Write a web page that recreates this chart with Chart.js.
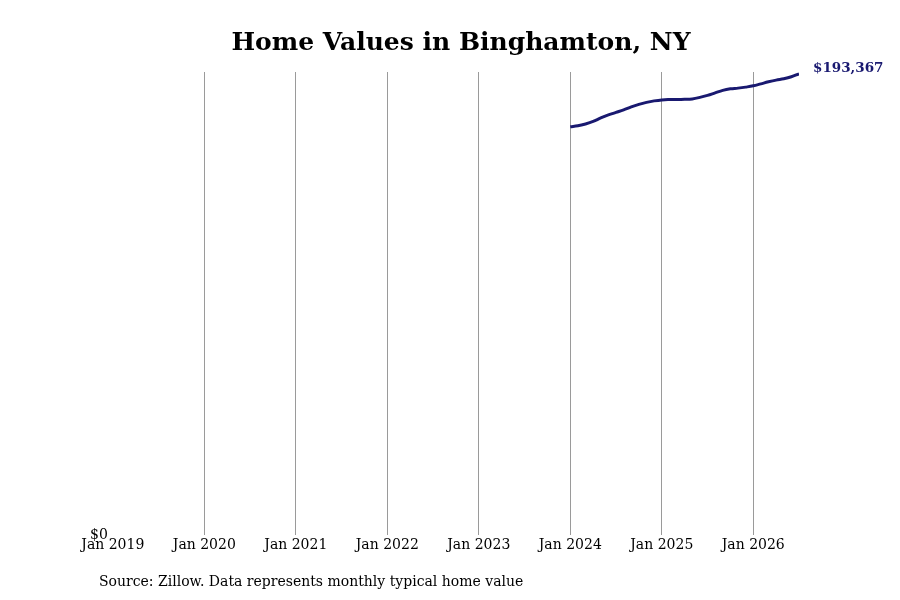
<!DOCTYPE html>
<html>
<head>
<meta charset="utf-8">
<title>Home Values in Binghamton, NY</title>
<script src="https://cdn.jsdelivr.net/npm/chart.js@4.4.1/dist/chart.umd.min.js"></script>
<style>
  html, body { margin: 0; padding: 0; background: #fff; }
  #wrap { width: 900px; height: 600px; position: relative; }
</style>
</head>
<body>
<div id="wrap"><canvas id="homeChart"></canvas></div>
<script>
// Data for the chart (monthly typical home value)
const months = [
    '2024-01', '2024-02', '2024-03', '2024-04', '2024-05', '2024-06',
    '2024-07', '2024-08', '2024-09', '2024-10', '2024-11', '2024-12',
    '2025-01', '2025-02', '2025-03', '2025-04', '2025-05', '2025-06',
    '2025-07', '2025-08', '2025-09', '2025-10', '2025-11', '2025-12',
    '2026-01', '2026-02', '2026-03', '2026-04', '2026-05', '2026-06',
    '2026-07'
];
const homeValues = [
    171230, 171600, 172360, 173410, 174890, 176150,
    177200, 178250, 179510, 180560, 181400, 182030,
    182450, 182580, 182580, 182670, 182870, 183500,
    184350, 185400, 186450, 187080, 187380, 187800,
    188340, 189180, 190020, 190740, 191290, 192130,
    193367
];
const tickYears = [2019, 2020, 2021, 2022, 2023, 2024, 2025, 2026];
const firstYear = 2019;

const titleText = 'Home Values in Binghamton, NY';
const sourceText = 'Source: Zillow. Data represents monthly typical home value';
const lineColor = '#191970';

// months since Jan 2019
function monthOffset(str) {
    const [y, m] = str.split('-').map(Number);
    return (y - firstYear) * 12 + (m - 1);
}

const points = months.map((m, i) => ({ x: monthOffset(m), y: homeValues[i] }));
const lastX = points[points.length - 1].x;
const maxVal = Math.max(...homeValues);

const fmt = v => '$' + Math.round(v).toLocaleString('en-US');

// title, end label and source line
const extras = {
    id: 'extras',
    afterDraw(chart) {
        const ctx = chart.ctx;
        const meta = chart.getDatasetMeta(0);
        const last = meta.data[meta.data.length - 1];
        ctx.save();
        ctx.textBaseline = 'middle';

        ctx.font = 'bold 25px "DejaVu Serif"';
        ctx.fillStyle = '#000';
        ctx.textAlign = 'center';
        ctx.fillText(titleText, 461, 43);

        ctx.textAlign = 'left';
        ctx.font = 'bold 13.5px "DejaVu Serif"';
        ctx.fillStyle = lineColor;
        ctx.fillText(fmt(homeValues[homeValues.length - 1]), last.x + 14, last.y - 5);

        ctx.font = '14px "DejaVu Serif"';
        ctx.fillStyle = '#000';
        ctx.fillText(sourceText, 99, 582);
        ctx.restore();
    }
};

document.addEventListener('DOMContentLoaded', () => {
    const ctx = document.getElementById('homeChart').getContext('2d');
    new Chart(ctx, {
        type: 'line',
        data: {
            datasets: [{
                data: points,
                borderColor: lineColor,
                borderWidth: 3,
                pointRadius: 0,
                tension: 0.4,
                fill: false
            }]
        },
        options: {
            responsive: true,
            maintainAspectRatio: false,
            animation: false,
            layout: { padding: { left: 85, right: 101, top: 72, bottom: 44 } },
            plugins: {
                legend: { display: false },
                tooltip: { enabled: false },
                title: { display: false }
            },
            scales: {
                x: {
                    type: 'linear',
                    min: 0,
                    max: lastX,
                    afterBuildTicks: axis => {
                        axis.ticks = tickYears.map(y => ({ value: (y - firstYear) * 12 }));
                    },
                    ticks: {
                        color: '#000',
                        font: { family: 'DejaVu Serif', size: 14 },
                        padding: 2,
                        maxRotation: 0,
                        autoSkip: false,
                        callback: v => 'Jan ' + (firstYear + Math.round(v / 12))
                    },
                    grid: {
                        drawTicks: false,
                        color: c => (c.tick && c.tick.value === 0) ? 'rgba(0,0,0,0)' : '#9a9a9a',
                        lineWidth: 1
                    },
                    border: { display: false }
                },
                y: {
                    min: 0,
                    max: maxVal * 1.004,
                    afterBuildTicks: axis => {
                        axis.ticks = [{ value: 0 }];
                    },
                    ticks: {
                        color: '#000',
                        font: { family: 'DejaVu Serif', size: 14 },
                        padding: 5,
                        callback: v => fmt(v)
                    },
                    grid: { display: false, drawTicks: false },
                    border: { display: false }
                }
            }
        },
        plugins: [extras]
    });
});
</script>
</body>
</html>
